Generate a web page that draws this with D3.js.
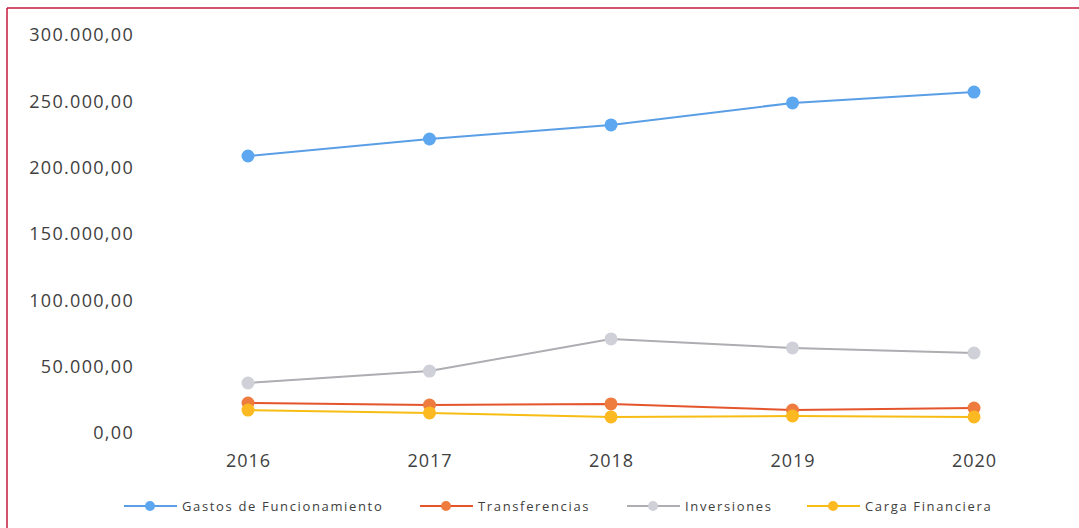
<!DOCTYPE html>
<html>
<head>
<meta charset="utf-8">
<script src="https://cdn.jsdelivr.net/npm/d3@7"></script>
<style>
  body { margin: 0; background: #fff; }
  #chart text { font-family: "Open Sans", sans-serif; fill: #404040; }
</style>
</head>
<body>
<div id="chart"></div>
<script>
const years = ["2016", "2017", "2018", "2019", "2020"];
const gastos = [208800, 221600, 232200, 248800, 257000];
const transferencias = [22600, 21100, 21900, 17300, 18800];
const inversiones = [37700, 46700, 70900, 64100, 60300];
const carga = [17300, 15100, 12100, 12800, 12100];
const yTicks = [0, 50000, 100000, 150000, 200000, 250000, 300000];

const seriesNames = ["Gastos de Funcionamiento", "Transferencias", "Inversiones", "Carga Financiera"];
const seriesValues = [gastos, transferencias, inversiones, carga];
const lineColors = ["#5a9fe6", "#e4552c", "#adadb2", "#f7bd14"];
const dotColors = ["#5ca7f0", "#ee7c3e", "#cfd0d8", "#fcb922"];

const W = 1079, H = 528;
const svg = d3.select("#chart").append("svg")
    .attr("width", W)
    .attr("height", H);

// frame (scanned page border)
svg.append("line").attr("x1", 7).attr("x2", W).attr("y1", 8).attr("y2", 8)
    .attr("stroke", "#c41a3c").attr("stroke-width", 1.5);
svg.append("line").attr("x1", 7).attr("x2", 7).attr("y1", 8).attr("y2", H)
    .attr("stroke", "#c41a3c").attr("stroke-width", 1.5);

const x = d3.scalePoint()
    .domain(years)
    .range([248, 974]);

const y = d3.scaleLinear()
    .domain([0, 300000])
    .range([433, 35]);

const fmt = d => d3.format(",.2f")(d).replace(/,/g, "#").replace(".", ",").replace(/#/g, ".");

// y axis labels
svg.append("g")
    .attr("transform", "translate(134,0)")
    .call(d3.axisLeft(y).tickValues(yTicks).tickFormat(fmt).tickSize(0).tickPadding(0))
    .call(g => g.select(".domain").remove())
    .selectAll("text")
    .style("font-size", "18px")
    .style("letter-spacing", "1.3px");

// x axis labels
svg.append("g")
    .attr("transform", "translate(0,454)")
    .call(d3.axisBottom(x).tickSize(0).tickPadding(0))
    .call(g => g.select(".domain").remove())
    .selectAll("text")
    .style("font-size", "18px")
    .style("letter-spacing", "1px");

const line = d3.line()
    .x((d, i) => x(years[i]))
    .y(d => y(d));

seriesValues.forEach((vals, k) => {
    svg.append("path")
        .datum(vals)
        .attr("fill", "none")
        .attr("stroke", lineColors[k])
        .attr("stroke-width", 2)
        .attr("d", line);
});
seriesValues.forEach((vals, k) => {
    svg.selectAll(null)
        .data(vals)
        .join("circle")
        .attr("cx", (d, i) => x(years[i]))
        .attr("cy", d => y(d))
        .attr("r", 6.5)
        .attr("fill", dotColors[k]);
});

// legend
const legendX = [124, 420, 627, 807];
const legend = svg.append("g");
seriesNames.forEach((name, k) => {
    const lx = legendX[k];
    legend.append("line")
        .attr("x1", lx).attr("x2", lx + 53)
        .attr("y1", 506).attr("y2", 506)
        .attr("stroke", lineColors[k])
        .attr("stroke-width", 2);
    legend.append("circle")
        .attr("cx", lx + 26).attr("cy", 506).attr("r", 5)
        .attr("fill", dotColors[k]);
    legend.append("text")
        .attr("x", lx + 58).attr("y", 506)
        .attr("dy", "0.35em")
        .style("font-size", "13px")
        .style("letter-spacing", "1.65px")
        .text(name);
});
</script>
</body>
</html>
